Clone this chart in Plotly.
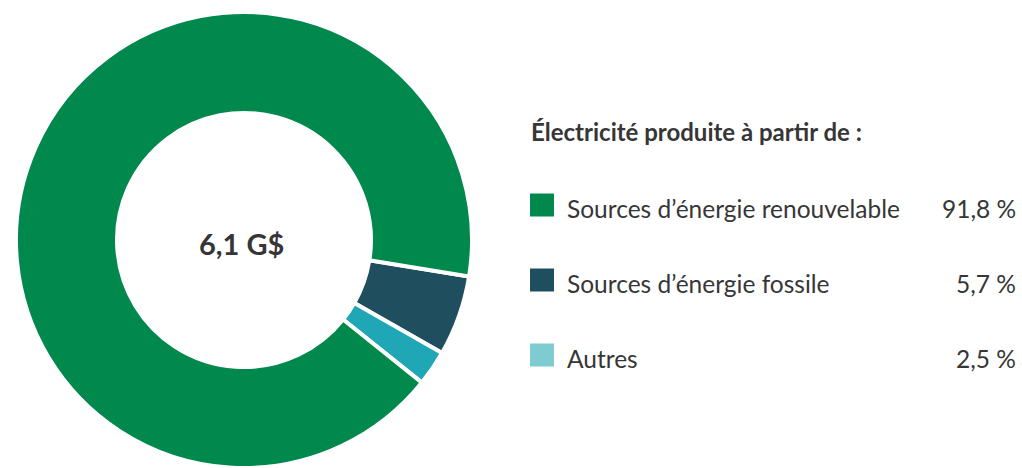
import plotly.graph_objects as go

# Data
categories = ["Sources d\u2019énergie fossile", "Autres", "Sources d\u2019énergie renouvelable"]
values = [5.7, 2.5, 91.8]
slice_colors = ["#1F4E5F", "#20A7B6", "#00884D"]

legend_labels = ["Sources d\u2019énergie renouvelable", "Sources d\u2019énergie fossile", "Autres"]
legend_values = ["91,8 %", "5,7 %", "2,5 %"]
legend_colors = ["#00884D", "#1F4E5F", "#7FCBD2"]

title_text = "Électricité produite à partir de :"
center_text = "6,1 G$"

W, H = 1022, 468
FONT = "Lato"
TXT = "#363636"

def px(x):
    return x / W

def py(y):
    return 1 - y / H

cx, cy, R = 244, 240, 228

fig = go.Figure()
fig.add_trace(go.Pie(
    labels=categories,
    values=values,
    marker=dict(colors=slice_colors, line=dict(color="white", width=4)),
    hole=127 / 228,
    sort=False,
    direction="clockwise",
    rotation=99.2,
    textinfo="none",
    hoverinfo="label+percent",
    showlegend=False,
    domain=dict(x=[px(cx - R), px(cx + R)], y=[py(cy + R), py(cy - R)]),
))

annotations = [
    dict(x=px(cx - 3), y=py(cy + 3), xref="paper", yref="paper", text="<b>" + center_text + "</b>",
         showarrow=False, xanchor="center", yanchor="middle",
         font=dict(family=FONT, size=29, color=TXT)),
    dict(x=px(529), y=py(131), xref="paper", yref="paper", text="<b>" + title_text + "</b>",
         showarrow=False, xanchor="left", yanchor="middle",
         font=dict(family=FONT, size=24, color=TXT)),
]
shapes = []
item_y = [205, 280, 355]
for lab, val, col, yy in zip(legend_labels, legend_values, legend_colors, item_y):
    shapes.append(dict(type="rect", xref="paper", yref="paper",
                       x0=px(530), x1=px(554), y0=py(yy + 11.5), y1=py(yy - 11.5),
                       fillcolor=col, line=dict(width=0)))
    annotations.append(dict(x=px(565), y=py(yy + 3), xref="paper", yref="paper", text=lab,
                            showarrow=False, xanchor="left", yanchor="middle",
                            font=dict(family=FONT, size=24.5, color=TXT)))
    annotations.append(dict(x=px(1018), y=py(yy + 3), xref="paper", yref="paper", text=val,
                            showarrow=False, xanchor="right", yanchor="middle",
                            font=dict(family=FONT, size=24.5, color=TXT)))

fig.update_layout(
    width=W, height=H,
    margin=dict(l=0, r=0, t=0, b=0),
    paper_bgcolor="white", plot_bgcolor="white",
    annotations=annotations, shapes=shapes,
    showlegend=False,
)
fig.write_html("out.html")
